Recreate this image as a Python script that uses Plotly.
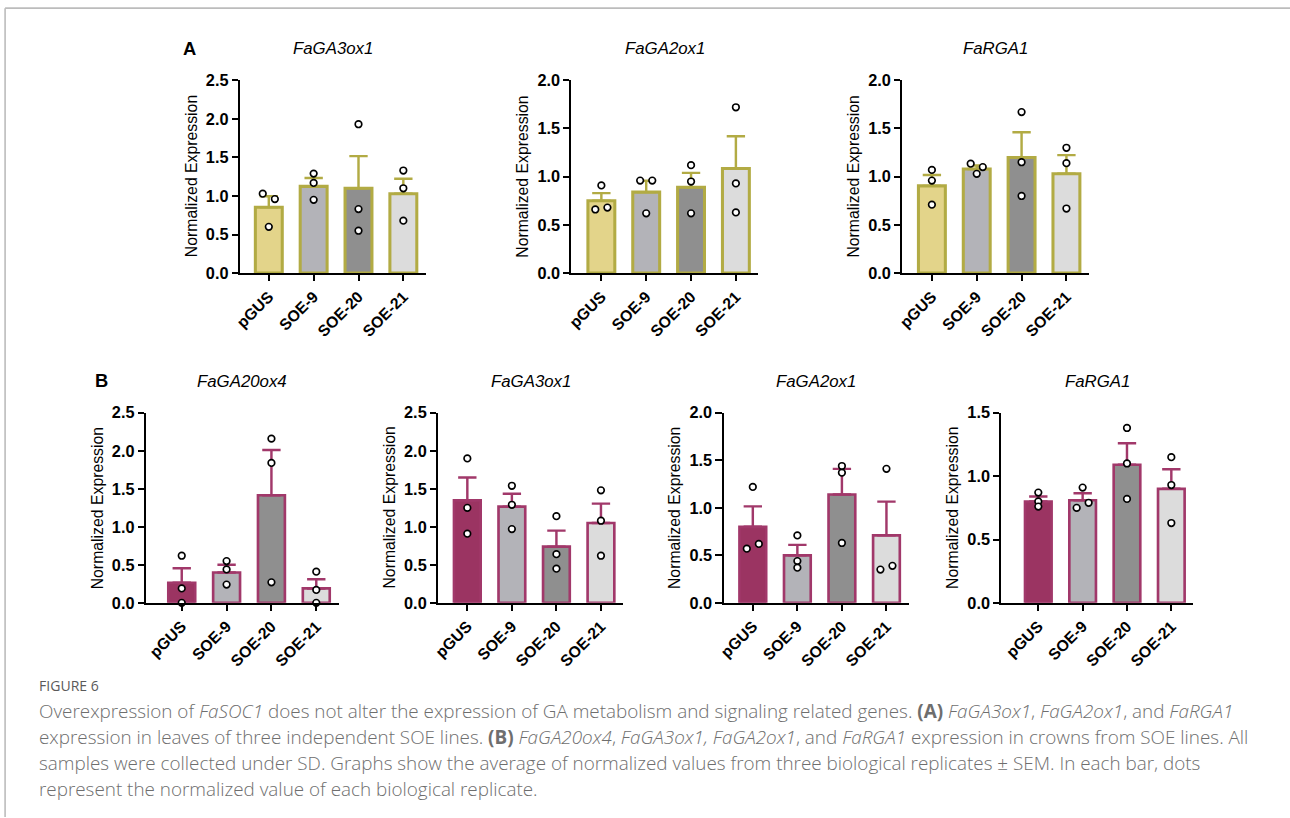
import plotly.graph_objects as go

# Layout is specified in target page pixels (1290x818).  The viewer shows the page
# together with its 8px body margin shrunk into that window, so page pixels are
# converted into figure pixels with the factors below.
PAGE_W, PAGE_H, BODY_MARGIN = 1290, 818, 8
SX = (PAGE_W + 2 * BODY_MARGIN) / PAGE_W
SY = (PAGE_H + 2 * BODY_MARGIN) / PAGE_H
W = round(PAGE_W * SX - BODY_MARGIN)
H = round(PAGE_H * SY - BODY_MARGIN)
K = SY  # font / marker size compensation

lines = ["pGUS", "SOE-9", "SOE-20", "SOE-21"]

# ---- Panel A: leaves ----
leaf_genes = ["FaGA3ox1", "FaGA2ox1", "FaRGA1"]
leaf_mean = [
    [0.855, 1.125, 1.100, 1.030],
    [0.750, 0.840, 0.890, 1.085],
    [0.905, 1.080, 1.200, 1.030],
]
leaf_sem = [
    [0.141, 0.108, 0.417, 0.194],
    [0.080, 0.118, 0.150, 0.335],
    [0.112, 0.036, 0.260, 0.194],
]
leaf_reps = [
    [[1.03, 0.96, 0.60], [1.29, 1.17, 0.95], [1.93, 0.83, 0.55], [1.33, 1.10, 0.68]],
    [[0.91, 0.66, 0.68], [0.96, 0.96, 0.62], [1.12, 0.95, 0.62], [1.72, 0.93, 0.63]],
    [[1.07, 0.96, 0.71], [1.135, 1.10, 1.03], [1.67, 1.15, 0.80], [1.30, 1.14, 0.67]],
]
leaf_ymax = [2.5, 2.0, 2.0]

# ---- Panel B: crowns ----
crown_genes = ["FaGA20ox4", "FaGA3ox1", "FaGA2ox1", "FaRGA1"]
crown_mean = [
    [0.265, 0.400, 1.415, 0.190],
    [1.350, 1.265, 0.740, 1.050],
    [0.800, 0.500, 1.140, 0.710],
    [0.800, 0.810, 1.090, 0.900],
]
crown_sem = [
    [0.190, 0.100, 0.595, 0.120],
    [0.300, 0.170, 0.210, 0.255],
    [0.215, 0.110, 0.270, 0.355],
    [0.040, 0.055, 0.170, 0.155],
]
crown_reps = [
    [[0.62, 0.19, 0.00], [0.55, 0.44, 0.24], [2.16, 1.84, 0.27], [0.41, 0.17, 0.00]],
    [[1.90, 1.25, 0.91], [1.54, 1.29, 0.97], [1.14, 0.64, 0.45], [1.48, 1.08, 0.62]],
    [[1.22, 0.57, 0.62], [0.71, 0.44, 0.37], [1.44, 1.37, 0.63], [1.41, 0.35, 0.39]],
    [[0.87, 0.80, 0.76], [0.91, 0.75, 0.79], [1.38, 1.10, 0.82], [1.15, 0.93, 0.63]],
]
crown_ymax = [2.5, 2.5, 2.0, 1.5]

# ---- styling ----
leaf_fill = ["#e3d48a", "#b3b3b8", "#8f8f8f", "#dcdcdc"]
leaf_edge = "#b2ab44"
crown_fill = ["#9b3462", "#b3b3b8", "#8f8f8f", "#dcdcdc"]
crown_edge = "#a1386a"

# horizontal spread of replicate dots that would otherwise overlap (-1 left, 0 centre, 1 right)
leaf_spread = [
    [[-1, 1, 0], [0, 0, 0], [0, 0, 0], [0, 0, 0]],
    [[0, -1, 1], [-1, 1, 0], [0, 0, 0], [0, 0, 0]],
    [[0, 0, 0], [-1, 1, 0], [0, 0, 0], [0, 0, 0]],
]
crown_spread = [
    [[0, 0, 0], [0, 0, 0], [0, 0, 0], [0, 0, 0]],
    [[0, 0, 0], [0, 0, 0], [0, 0, 0], [0, 0, 0]],
    [[0, -1, 1], [0, 0, 0], [0, 0, 0], [0, -1, 1]],
    [[0, 0, 0], [0, -1, 1], [0, 0, 0], [0, 0, 0]],
]
SPREAD = 0.135

# page-pixel frames of each plot: (axis x, first bar centre, bar spacing)
leaf_frames = [(240, 268.7, 44.5), (569, 598.7, 44.5), (897.3, 926.7, 44.5)]
crown_frames = [(146.7, 182.3, 44.5), (436.7, 465.7, 44.2), (720, 749, 44.2), (995.7, 1032.3, 44.0)]
leaf_yband = (79.3, 272.7)
crown_yband = (412.7, 603.3)
leaf_title_y, crown_title_y = 47, 381

FONT = "Liberation Sans, Arial, sans-serif"

fig = go.Figure()
annotations = []


def px_x(x):
    """page x pixel -> paper fraction"""
    return (x * SX - BODY_MARGIN) / W


def px_y(y):
    """page y pixel -> paper fraction"""
    return 1 - (y * SY - BODY_MARGIN) / H


def add_plot(idx, gene, means, sems, reps, spread, ymax, frame, yband, title_y,
             fills, edge, edge_w):
    ax0, c0, step = frame
    ytop, ybot = yband
    r0 = -(c0 - ax0) / step
    r1 = 3.5
    x_right = c0 + r1 * step
    xa = "x" if idx == 1 else f"x{idx}"
    ya = "y" if idx == 1 else f"y{idx}"
    pos = list(range(len(lines)))

    fig.add_trace(go.Bar(
        x=pos, y=means, width=0.6,
        marker=dict(color=fills, line=dict(color=edge, width=edge_w * K)),
        error_y=dict(type="data", symmetric=False, array=sems,
                     arrayminus=[0] * len(sems), color=edge, thickness=2.4 * K, width=9 * K),
        xaxis=xa, yaxis=ya, showlegend=False, hoverinfo="skip",
    ))

    dx, dy = [], []
    for i, vals in enumerate(reps):
        for v, s in zip(vals, spread[i]):
            dx.append(pos[i] + s * SPREAD)
            dy.append(v)
    fig.add_trace(go.Scatter(
        x=dx, y=dy, mode="markers",
        marker=dict(size=6.5 * K, color="white", line=dict(color="black", width=1.6 * K)),
        xaxis=xa, yaxis=ya, showlegend=False, hoverinfo="skip", cliponaxis=False,
    ))

    ticks = [round(0.5 * k, 1) for k in range(int(ymax / 0.5) + 1)]
    axis_common = dict(showline=True, linecolor="black", linewidth=2 * K, ticks="outside",
                       ticklen=6 * K, tickwidth=2 * K, tickcolor="black", showgrid=False,
                       zeroline=False, fixedrange=True)
    fig.layout[("xaxis" if idx == 1 else f"xaxis{idx}")] = dict(
        domain=[px_x(ax0), px_x(x_right)], range=[r0, r1], anchor=ya,
        tickvals=pos, ticktext=lines, tickangle=-45,
        tickfont=dict(family=FONT, size=15.5 * K, color="black", weight="bold"),
        **axis_common)
    fig.layout[("yaxis" if idx == 1 else f"yaxis{idx}")] = dict(
        domain=[px_y(ybot), px_y(ytop)], range=[0, ymax], anchor=xa,
        tickvals=ticks, ticktext=[f"{t:.1f}" for t in ticks],
        tickfont=dict(family=FONT, size=16 * K, color="black", weight="bold"),
        **axis_common)

    annotations.append(dict(
        x=px_x((ax0 + x_right) / 2), y=px_y(title_y), xref="paper", yref="paper",
        text=f"<i>{gene}</i>", showarrow=False, xanchor="center", yanchor="middle",
        font=dict(family=FONT, size=16.5 * K, color="black")))
    annotations.append(dict(
        x=px_x(ax0 - 48), y=px_y((ytop + ybot) / 2), xref="paper", yref="paper",
        text="Normalized Expression", textangle=-90, showarrow=False,
        xanchor="center", yanchor="middle",
        font=dict(family=FONT, size=15.5 * K, color="black")))


idx = 1
for g in range(len(leaf_genes)):
    add_plot(idx, leaf_genes[g], leaf_mean[g], leaf_sem[g], leaf_reps[g], leaf_spread[g],
             leaf_ymax[g], leaf_frames[g], leaf_yband, leaf_title_y,
             leaf_fill, leaf_edge, 3)
    idx += 1
for g in range(len(crown_genes)):
    add_plot(idx, crown_genes[g], crown_mean[g], crown_sem[g], crown_reps[g], crown_spread[g],
             crown_ymax[g], crown_frames[g], crown_yband, crown_title_y,
             crown_fill, crown_edge, 2.6)
    idx += 1

# panel letters
for letter, (lx, ly) in {"A": (190, 47), "B": (103, 380)}.items():
    annotations.append(dict(
        x=px_x(lx), y=px_y(ly), xref="paper", yref="paper", text=f"<b>{letter}</b>",
        showarrow=False, xanchor="center", yanchor="middle",
        font=dict(family=FONT, size=18 * K, color="black")))

# figure caption
CAP_FONT = "Open Sans, Lato, sans-serif"
annotations.append(dict(
    x=px_x(39), y=px_y(686), xref="paper", yref="paper", text="FIGURE 6",
    showarrow=False, xanchor="left", yanchor="middle",
    font=dict(family=CAP_FONT, size=13.8 * K, color="#5a5a5a")))
caption = [
    "Overexpression of <i>FaSOC1</i> does not alter the expression of GA metabolism and signaling related genes. "
    "<b>(A)</b> <i>FaGA3ox1</i>, <i>FaGA2ox1</i>, and <i>FaRGA1</i>",
    "expression in leaves of three independent SOE lines. <b>(B)</b> <i>FaGA20ox4</i>, "
    "<i>FaGA3ox1, FaGA2ox1</i>, and <i>FaRGA1</i> expression in crowns from SOE lines. All",
    "samples were collected under SD. Graphs show the average of normalized values from three "
    "biological replicates ± SEM. In each bar, dots",
    "represent the normalized value of each biological replicate.",
]
for k, txt in enumerate(caption):
    annotations.append(dict(
        x=px_x(39), y=px_y(712 + 26 * k), xref="paper", yref="paper", text=txt,
        showarrow=False, xanchor="left", yanchor="middle",
        font=dict(family=CAP_FONT, size=18.5 * K, color="#6e6e6e", weight=300)))

# frame lines along the top and left edges
shapes = [
    dict(type="line", xref="paper", yref="paper", x0=px_x(7), x1=1, y0=px_y(7), y1=px_y(7),
         line=dict(color="#bcbcbc", width=1.6)),
    dict(type="line", xref="paper", yref="paper", x0=px_x(7), x1=px_x(7), y0=px_y(7), y1=0,
         line=dict(color="#bcbcbc", width=1.6)),
]

fig.update_layout(
    width=W, height=H, margin=dict(l=0, r=0, t=0, b=0),
    paper_bgcolor="white", plot_bgcolor="white",
    annotations=annotations, shapes=shapes, bargap=0.4,
)

fig.write_html("out.html", config={"displayModeBar": False})
